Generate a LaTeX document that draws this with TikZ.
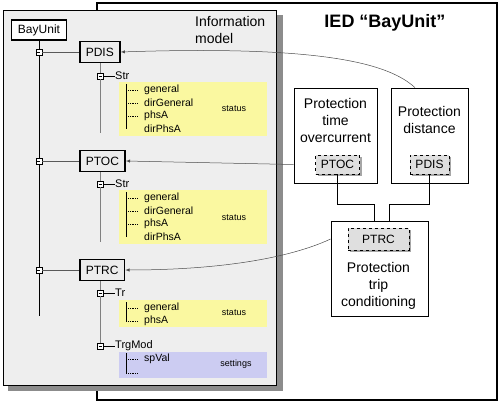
\documentclass[tikz,border=0pt]{standalone}
\usepackage{fontspec}
\setmainfont{Liberation Sans}
\usetikzlibrary{calc,arrows,shadows}
\definecolor{panelgray}{RGB}{238,238,238}
\definecolor{shadegray}{RGB}{140,140,140}
\definecolor{statfill}{RGB}{250,248,160}
\definecolor{setfill}{RGB}{204,204,242}
\tikzset{
    lnbox/.style={draw,line width=1.6pt,fill=gray!15,inner xsep=6pt,inner ysep=2pt,
        minimum height=21pt,font=\fontsize{12}{14}\selectfont},
    xbox/.style={draw,fill=white,inner sep=0pt,minimum size=6pt,line width=0.6pt},
    subname/.style={anchor=west,inner sep=0pt,font=\fontsize{11}{13}\selectfont},
    item/.style={anchor=west,inner sep=0pt,font=\fontsize{10.5}{12}\selectfont},
    tag/.style={inner sep=0pt,font=\fontsize{9}{10}\selectfont},
    stub/.style={densely dotted,line width=0.8pt},
    rail/.style={line width=0.8pt},
    fnbox/.style={draw,line width=0.8pt,fill=white,minimum height=95pt},
    fntext/.style={align=center,inner sep=0pt,font=\fontsize{14}{17}\selectfont},
    refbox/.style={draw,dashed,line width=0.8pt,fill=gray!25,minimum width=44pt,
        minimum height=19pt,inner sep=1pt,font=\fontsize{12}{14}\selectfont,
        drop shadow={shadow xshift=2pt,shadow yshift=-2pt,fill=gray!70,opacity=1}},
    wire/.style={line width=0.8pt},
    link/.style={->,>=latex,gray!60!black,line width=0.5pt}
}
\begin{document}
\begin{tikzpicture}[x=1pt,y=-1pt]
    \useasboundingbox (0,0) rectangle (499,404);

    % IED frame and information model panel
    \draw[line width=2pt] (97,3) rectangle (497,400);
    \fill[shadegray] (8,15) rectangle (283,391);
    \draw[fill=panelgray] (3,10) rectangle (276,385);
    \node[font=\bfseries\fontsize{18}{20}\selectfont,anchor=base] (ied) at (385,28) {IED “BayUnit”};
    \node[align=left,anchor=north west,inner sep=0pt,font=\fontsize{14}{17}\selectfont] (infomodel)
        at (195,16) {Information\\model};

    % data areas
    \fill[statfill] (119,82) rectangle (267,136);
    \fill[statfill] (119,190) rectangle (267,244);
    \fill[statfill] (119,300) rectangle (267,327);
    \fill[setfill] (119,352) rectangle (267,378);

    % tree
    \node[draw,line width=1.6pt,fill=white,minimum width=55pt,minimum height=20pt,
        font=\fontsize{12}{14}\selectfont] (bay) at (39,30) {BayUnit};
    \coordinate (trunkend) at (39,316);
    \draw[rail] (bay.south) -- (trunkend);
    \foreach \ln/\y in {PDIS/52,PTOC/161,PTRC/270} {
        \node[xbox] (x\ln) at (39,\y) {\rule{3pt}{0.6pt}};
        \node[lnbox,anchor=west] (\ln) at (79,\y) {\ln};
        \draw[rail,gray!70!black] (x\ln) -- (\ln);
    }

    % sub levels
    \coordinate (endA) at (100,133);
    \coordinate (endB) at (100,242);
    \node[xbox] (xStrA) at (100,76) {\rule{3pt}{0.6pt}};
    \node[xbox] (xStrB) at (100,184) {\rule{3pt}{0.6pt}};
    \node[xbox] (xTr) at (100,293) {\rule{3pt}{0.6pt}};
    \node[xbox] (xTrgMod) at (100,346) {\rule{3pt}{0.6pt}};
    \draw[rail,gray] (PDIS.south -| xStrA) -- (xStrA) -- (endA);
    \draw[rail,gray] (PTOC.south -| xStrB) -- (xStrB) -- (endB);
    \draw[rail,gray] (PTRC.south -| xTr) -- (xTr) -- (xTrgMod);
    \node[subname] (sStrA) at (115,76) {Str};
    \node[subname] (sStrB) at (115,184) {Str};
    \node[subname] (sTr) at (115,293) {Tr};
    \node[subname] (sTrgMod) at (115,346) {TrgMod};
    \foreach \s in {StrA,StrB,Tr,TrgMod}
        \draw[rail] (x\s) -- (s\s);

    % data objects
    \foreach \t [count=\i] in {general,dirGeneral,phsA,dirPhsA}
        \node[item] (a\i) at (144,77+13*\i) {\t};
    \foreach \t [count=\i] in {general,dirGeneral,phsA,dirPhsA}
        \node[item] (b\i) at (144,185+13*\i) {\t};
    \node[item] (c1) at (144,308) {general};
    \node[item] (c2) at (144,321) {phsA};
    \node[item] (d1) at (144,359) {spVal};
    \node[item] (d2) at (144,373) {};
    \foreach \g in {a,b} {
        \draw[rail] ([xshift=-18pt,yshift=6pt]\g1.west) -- ([xshift=-18pt]\g4.west);
        \foreach \i in {1,2,3}
            \draw[stub] ([xshift=-16pt]\g\i.west) -- ([xshift=-6pt]\g\i.west);
    }
    \foreach \g in {c,d} {
        \draw[rail] ([xshift=-18pt,yshift=6pt]\g1.west) -- ([xshift=-18pt,yshift=-1pt]\g2.west);
        \foreach \i in {1,2}
            \draw[stub] ([xshift=-16pt]\g\i.west) -- ([xshift=-6pt]\g\i.west);
    }
    \node[tag] (stA) at (234,109) {status};
    \node[tag] (stB) at (234,218) {status};
    \node[tag] (stC) at (234,313) {status};
    \node[tag] (stD) at (236,364) {settings};

    % functions of the IED
    \node[fnbox,minimum width=83pt] (fTOC) at (335.5,135.5) {};
    \node[fntext] (tTOC) at (335.5,120) {Protection\\time\\overcurrent};
    \node[refbox] (rTOC) at (337.5,164.5) {PTOC};
    \node[fnbox,minimum width=77pt] (fDIS) at (429.5,135.5) {};
    \node[fntext] (tDIS) at (429.5,119.5) {Protection\\distance};
    \node[refbox,minimum width=39pt] (rDIS) at (429.5,164.5) {PDIS};
    \node[fnbox,minimum width=97pt] (fTRC) at (379.5,268.5) {};
    \node[refbox,minimum width=61pt,minimum height=22pt] (rTRC) at (378.5,239) {PTRC};
    \node[fntext] (tTRC) at (378.5,285.5) {Protection\\trip\\conditioning};

    \coordinate (jL) at (374,204);
    \coordinate (jR) at (389,204);
    \draw[wire] (rTOC.south) |- (jL) -- (jL |- fTRC.north);
    \draw[wire] (rDIS.south) |- (jR) -- (jR |- fTRC.north);

    % references into the model
    \draw[link] ([xshift=-14.5pt]fDIS.north) .. controls (390,65) and (330,45) .. (PDIS.east);
    \draw[link] (fTOC.west |- rTOC) -- (PTOC.east);
    \draw[link] (fTRC.west |- rTRC) .. controls (290,258) and (220,270) .. (PTRC.east);
\end{tikzpicture}
\end{document}
